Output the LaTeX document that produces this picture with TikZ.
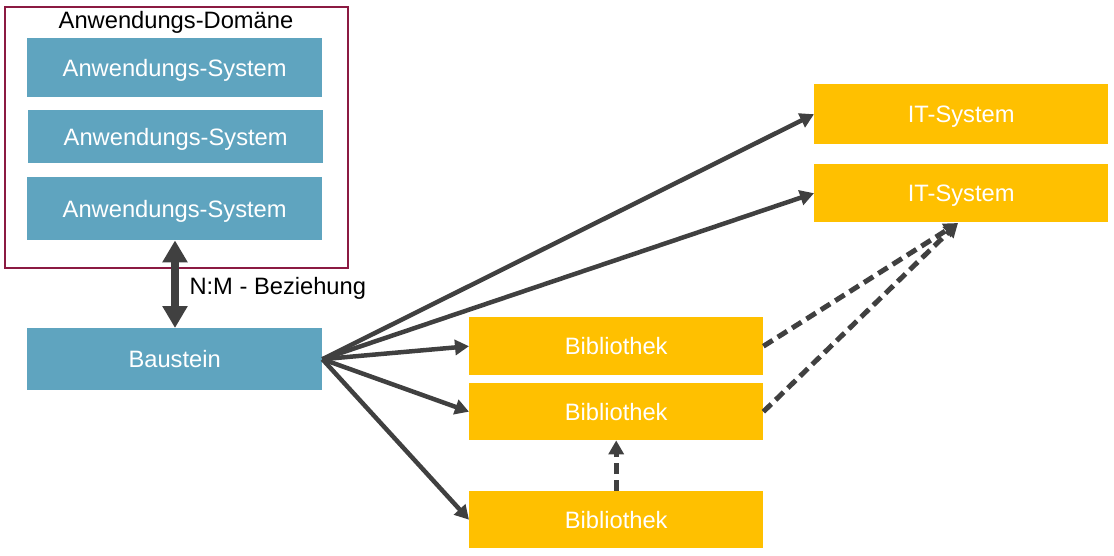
\documentclass[tikz,border=0pt]{standalone}
\usepackage{fontspec}
\setmainfont{Liberation Sans}
\usetikzlibrary{arrows.meta}
\definecolor{blu}{HTML}{5FA4BF}
\definecolor{yel}{HTML}{FFC000}
\definecolor{dom}{HTML}{8B1A42}
\definecolor{arr}{HTML}{404040}
\begin{document}
\begin{tikzpicture}[x=1pt,y=-1pt,
  txt/.style={font=\fontsize{23.7}{27}\selectfont},
  box/.style={txt,draw=none,anchor=north west,inner sep=0pt,text=white,text height=17pt,text depth=0pt},
  bluebox/.style={box,fill=blu},
  yelbox/.style={box,fill=yel},
  conn/.style={draw=arr,line width=4.5pt,-{Triangle[length=14pt,width=15pt]}},
  dconn/.style={conn,line width=5pt,dash pattern=on 11pt off 6pt}]
\useasboundingbox (0,0) rectangle (1114,556);
\draw[dom,line width=2.5pt] (5,7) rectangle (348,268);
\node[txt] (title) at (176,22) {Anwendungs-Domäne};
\node[bluebox,minimum width=295pt,minimum height=59pt] (as1) at (27,38) {Anwendungs-System};
\node[bluebox,minimum width=295pt,minimum height=53pt] (as2) at (28,110) {Anwendungs-System};
\node[bluebox,minimum width=295pt,minimum height=63pt] (as3) at (27,177) {Anwendungs-System};
\node[bluebox,minimum width=295pt,minimum height=62pt] (bau) at (27,328) {Baustein};
\node[yelbox,minimum width=294pt,minimum height=60pt] (it1) at (814,84) {IT-System};
\node[yelbox,minimum width=294pt,minimum height=58pt] (it2) at (814,164) {IT-System};
\node[yelbox,minimum width=294pt,minimum height=58pt] (b1) at (469,317) {Bibliothek};
\node[yelbox,minimum width=294pt,minimum height=57pt] (b2) at (469,383) {Bibliothek};
\node[yelbox,minimum width=294pt,minimum height=57pt] (b3) at (469,491) {Bibliothek};
\draw[draw=arr,line width=8pt,{Triangle[length=22pt,width=24pt]}-{Triangle[length=22pt,width=24pt]}] (as3.south -| 175,0) -- (bau.north -| 175,0);
\node[anchor=west,txt] (nm) at (186,288) {N:M - Beziehung};
\coordinate (src) at (bau.east);
\draw[conn] (src) -- (it1.west);
\draw[conn] (src) -- (it2.west);
\draw[conn] (src) -- (b1.west);
\draw[conn] (src) -- (b2.west);
\draw[conn] (src) -- (b3.west);
\coordinate (tgt) at (958,223);
\draw[dconn] (b1.east) -- (tgt);
\draw[dconn] (b2.east) -- (tgt);
\draw[dconn] (b3.north) -- (b2.south);
\end{tikzpicture}
\end{document}
